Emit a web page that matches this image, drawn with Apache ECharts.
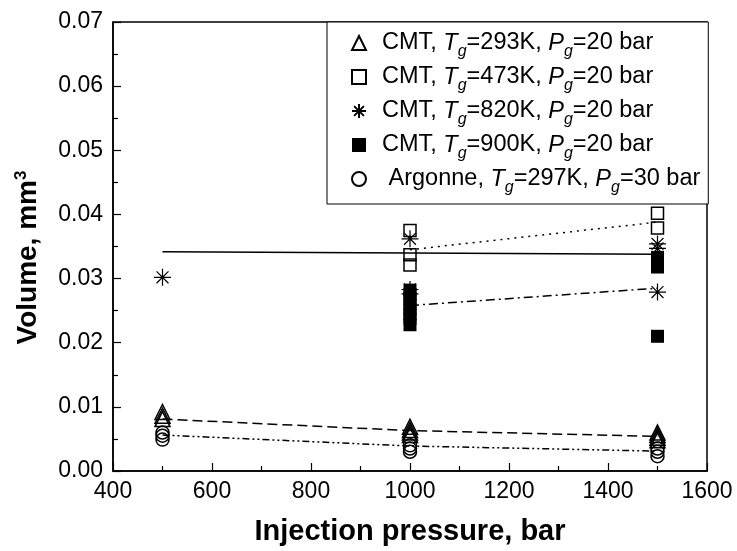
<!DOCTYPE html>
<html><head><meta charset="utf-8">
<script src="https://cdn.jsdelivr.net/npm/echarts@6/dist/echarts.min.js"></script>
<style>html,body{margin:0;padding:0;background:#fff}#c{width:737px;height:551px}</style>
</head><body><div id="c"></div>
<script>
// ---- data ----
const pressures = [500, 1000, 1500];
const xTickMin = 400, xTickMax = 1600, xTickStep = 200;
const yTickMin = 0, yTickMax = 0.07, yTickStep = 0.01;

// markers: one inner array per injection pressure (500, 1000, 1500)
const cmt293K = [[0.0092, 0.0086, 0.0081], [0.0069, 0.0064, 0.0060, 0.0056], [0.0060, 0.0056, 0.0052, 0.0048]];
const cmt473K = [[], [0.0375, 0.0337, 0.0321], [0.0402, 0.0379]];
const cmt820K = [[0.0302], [0.0362, 0.0283, 0.0276], [0.0354, 0.0347, 0.0279]];
const cmt900K = [[], [0.0282, 0.0275, 0.0268, 0.0260, 0.0252, 0.0245, 0.0238, 0.0228], [0.0333, 0.0326, 0.0318, 0.0210]];
const argonne297K = [[0.0060, 0.0055, 0.0049], [0.0040, 0.0035, 0.0030], [0.0035, 0.0030, 0.0023]];

// trend lines at 500, 1000, 1500 bar (null = no point)
const trend293K = [0.0081, 0.0063, 0.0054];
const trendArgonne = [0.0056, 0.0039, 0.0031];
const trendSolid = [0.0342, 0.0340, 0.0338];
const trend473K = [null, 0.0345, 0.0388];
const trend900K = [null, 0.0258, 0.0285];

const legendNames = [
  'CMT, {i|T}{s|g}{n|=293K, }{i|P}{s|g}{n|=20 bar}',
  'CMT, {i|T}{s|g}{n|=473K, }{i|P}{s|g}{n|=20 bar}',
  'CMT, {i|T}{s|g}{n|=820K, }{i|P}{s|g}{n|=20 bar}',
  'CMT, {i|T}{s|g}{n|=900K, }{i|P}{s|g}{n|=20 bar}',
  ' Argonne, {i|T}{s|g}{n|=297K, }{i|P}{s|g}{n|=30 bar}'
];
const seriesKeys = ['s293', 's473', 's820', 's900', 'sArg'];

// ---- build ----
const FONT = '"Liberation Sans", Arial, sans-serif';
function pts(groups) {
  const out = [];
  pressures.forEach((p, i) => groups[i].forEach(v => out.push([p, v])));
  return out;
}
function line(vals) {
  return pressures.map((p, i) => vals[i] == null ? null : [p, vals[i]]).filter(d => d);
}
const star = 'path://M0,5L10,5M5,0L5,10M1.5,1.5L8.5,8.5M8.5,1.5L1.5,8.5';
const hollow = {color: 'rgba(0,0,0,0)', borderColor: '#000', borderWidth: 1.5, opacity: 1};

function trend(vals, type) {
  return {type: 'line', data: line(vals), symbol: 'none', silent: true, z: 1,
    lineStyle: {color: '#000', width: 1.5, type: type}};
}

const nameMap = {};
seriesKeys.forEach((k, i) => nameMap[k] = legendNames[i]);

const option = {
  animation: false,
  backgroundColor: '#fff',
  textStyle: {fontFamily: FONT},
  grid: {left: 113, right: 30, top: 22, bottom: 78, show: true, borderColor: '#000', borderWidth: 1.5, backgroundColor: 'transparent'},
  legend: {
    orient: 'vertical', left: 327, top: 22,
    data: seriesKeys,
    formatter: k => nameMap[k],
    itemWidth: 14, itemHeight: 14, itemGap: 0,
    padding: [4, 8, 8, 24],
    borderColor: '#000', borderWidth: 1, backgroundColor: '#fff',
    textStyle: {
      fontFamily: FONT, fontSize: 23.5, color: '#000', lineHeight: 34, padding: [0, 0, 0, 11],
      rich: {
        n: {fontFamily: FONT, fontSize: 23.5, color: '#000', lineHeight: 34},
        i: {fontFamily: FONT, fontSize: 23.5, color: '#000', fontStyle: 'italic', lineHeight: 34},
        s: {fontFamily: FONT, fontSize: 16, color: '#000', fontStyle: 'italic', lineHeight: 8, verticalAlign: 'bottom'}
      }
    }
  },
  xAxis: {
    type: 'value', min: xTickMin, max: xTickMax, interval: xTickStep,
    name: 'Injection pressure, bar', nameLocation: 'middle', nameGap: 46,
    nameTextStyle: {fontFamily: FONT, fontSize: 29, fontWeight: 'bold', color: '#000'},
    axisLine: {lineStyle: {color: '#000', width: 1.5}},
    axisTick: {inside: true, length: 8, lineStyle: {color: '#000', width: 1.2}},
    minorTick: {show: true, splitNumber: 2, length: 5, lineStyle: {color: '#000', width: 1.2}},
    axisLabel: {fontFamily: FONT, fontSize: 23, color: '#000', margin: 9, formatter: v => String(v)},
    splitLine: {show: false}
  },
  yAxis: {
    type: 'value', min: yTickMin, max: yTickMax, interval: yTickStep,
    name: 'Volume, mm{sup|3}', nameLocation: 'middle', nameGap: 70,
    nameTextStyle: {fontFamily: FONT, fontSize: 28, fontWeight: 'bold', color: '#000', lineHeight: 30,
      padding: [0, 22, 0, 0],
      rich: {sup: {fontFamily: FONT, fontSize: 17, color: '#000', lineHeight: 8, verticalAlign: 'top'}}},
    axisLine: {lineStyle: {color: '#000', width: 1.5}},
    axisTick: {inside: true, length: 8, lineStyle: {color: '#000', width: 1.2}},
    minorTick: {show: true, splitNumber: 2, length: 5, lineStyle: {color: '#000', width: 1.2}},
    axisLabel: {fontFamily: FONT, fontSize: 23, color: '#000', margin: 10, formatter: v => v.toFixed(2)},
    splitLine: {show: false}
  },
  series: [
    trend(trend293K, [10, 5]),
    trend(trendArgonne, [7, 3, 2, 3, 2, 3]),
    trend(trendSolid, 'solid'),
    trend(trend473K, [2, 5]),
    trend(trend900K, [9, 4, 2, 4]),
    {name: 's293', type: 'scatter', data: pts(cmt293K), symbol: 'triangle', symbolSize: [15, 15], itemStyle: hollow, z: 3},
    {name: 's473', type: 'scatter', data: pts(cmt473K), symbol: 'rect', symbolSize: 12, itemStyle: hollow, z: 3},
    {name: 's820', type: 'scatter', data: pts(cmt820K), symbol: star, symbolSize: 17, itemStyle: {color: 'rgba(0,0,0,0)', borderColor: '#000', borderWidth: 1.2, opacity: 1}, z: 4},
    {name: 's900', type: 'scatter', data: pts(cmt900K), symbol: 'rect', symbolSize: 13, itemStyle: {color: '#000', opacity: 1}, z: 3},
    {name: 'sArg', type: 'scatter', data: pts(argonne297K), symbol: 'circle', symbolSize: 13, itemStyle: hollow, z: 3}
  ]
};
const chart = echarts.init(document.getElementById('c'));
chart.setOption(option);
</script>
</body></html>
